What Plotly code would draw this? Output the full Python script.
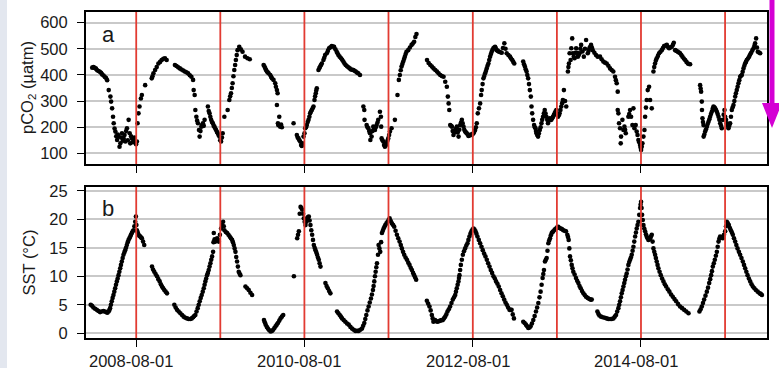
import pandas as pd
import plotly.graph_objects as go
from plotly.subplots import make_subplots

# Surface-water pCO2 (µatm) observations, as (decimal year, value)
pco2_obs = [
    (2008.060, 428), (2008.075, 430), (2008.090, 427), (2008.105, 424), (2008.119, 418), (2008.135, 415),
    (2008.150, 412), (2008.165, 408), (2008.178, 402), (2008.195, 398), (2008.210, 392), (2008.225, 388),
    (2008.237, 380), (2008.256, 342), (2008.276, 317), (2008.284, 298), (2008.296, 272), (2008.307, 240),
    (2008.315, 215), (2008.325, 195), (2008.335, 183), (2008.345, 165), (2008.355, 151), (2008.364, 172),
    (2008.374, 164), (2008.384, 125), (2008.394, 138), (2008.403, 160), (2008.413, 177), (2008.423, 148),
    (2008.433, 157), (2008.443, 170), (2008.453, 145), (2008.462, 185), (2008.472, 196), (2008.482, 150),
    (2008.492, 228), (2008.504, 177), (2008.511, 138), (2008.521, 165), (2008.531, 157), (2008.541, 142),
    (2008.551, 151), (2008.561, 160), (2008.570, 145), (2008.580, 135), (2008.590, 145), (2008.598, 215),
    (2008.609, 253), (2008.621, 279), (2008.637, 310), (2008.649, 323), (2008.688, 361), (2008.766, 387),
    (2008.775, 395), (2008.786, 406), (2008.806, 419), (2008.825, 430), (2008.845, 444), (2008.865, 450),
    (2008.884, 457), (2008.904, 462), (2008.923, 464), (2008.943, 457),
    (2009.041, 438), (2009.060, 434), (2009.080, 429), (2009.100, 425), (2009.119, 421), (2009.140, 417),
    (2009.158, 413), (2009.178, 410), (2009.198, 406), (2009.218, 399), (2009.237, 393), (2009.257, 381),
    (2009.264, 342), (2009.276, 323), (2009.284, 266), (2009.296, 240), (2009.305, 225), (2009.315, 215),
    (2009.327, 189), (2009.335, 164), (2009.345, 185), (2009.355, 202), (2009.365, 208), (2009.374, 215),
    (2009.384, 205), (2009.394, 228), (2009.433, 279), (2009.443, 262), (2009.453, 253), (2009.462, 240),
    (2009.472, 228), (2009.482, 220), (2009.492, 215), (2009.502, 205), (2009.511, 202), (2009.521, 195),
    (2009.531, 189), (2009.541, 182), (2009.551, 177), (2009.560, 170), (2009.570, 164), (2009.580, 150),
    (2009.590, 145), (2009.600, 160), (2009.609, 177), (2009.629, 240), (2009.668, 266), (2009.688, 304),
    (2009.698, 318), (2009.708, 330), (2009.718, 350), (2009.727, 368), (2009.737, 395), (2009.747, 419),
    (2009.757, 438), (2009.766, 457), (2009.776, 476), (2009.786, 495), (2009.806, 508), (2009.825, 498),
    (2009.845, 489), (2009.875, 470), (2009.904, 464), (2009.931, 460),
    (2010.096, 438), (2010.106, 432), (2010.116, 425), (2010.125, 419), (2010.135, 413), (2010.145, 410),
    (2010.155, 406), (2010.175, 400), (2010.185, 393), (2010.195, 387), (2010.214, 381), (2010.234, 368),
    (2010.242, 355), (2010.254, 342), (2010.262, 330), (2010.254, 285), (2010.282, 240), (2010.266, 215),
    (2010.270, 208), (2010.293, 202), (2010.303, 210), (2010.313, 200), (2010.452, 215), (2010.491, 170),
    (2010.501, 160), (2010.511, 157), (2010.521, 150), (2010.531, 145), (2010.542, 132), (2010.550, 128),
    (2010.558, 138), (2010.570, 164), (2010.582, 177), (2010.590, 196), (2010.600, 200), (2010.610, 208),
    (2010.620, 220), (2010.630, 228), (2010.640, 240), (2010.649, 253), (2010.659, 260), (2010.669, 266),
    (2010.679, 272), (2010.689, 279), (2010.701, 304), (2010.708, 318), (2010.716, 330), (2010.722, 340),
    (2010.728, 349), (2010.748, 419), (2010.758, 426), (2010.768, 432), (2010.778, 438), (2010.788, 444),
    (2010.807, 457), (2010.817, 466), (2010.827, 476), (2010.847, 483), (2010.860, 492), (2010.874, 502),
    (2010.890, 506), (2010.906, 511), (2010.920, 509), (2010.934, 508), (2010.950, 498), (2010.965, 489),
    (2010.975, 483), (2010.985, 476), (2011.000, 470), (2011.017, 464), (2011.030, 458), (2011.044, 451),
    (2011.058, 444), (2011.072, 438), (2011.088, 433), (2011.104, 429), (2011.120, 425), (2011.135, 421),
    (2011.150, 420), (2011.163, 419), (2011.177, 416), (2011.191, 413), (2011.206, 409), (2011.222, 406),
    (2011.242, 400), (2011.282, 279), (2011.293, 266), (2011.296, 228), (2011.321, 208), (2011.331, 200),
    (2011.341, 196), (2011.351, 185), (2011.361, 177), (2011.365, 151), (2011.380, 164), (2011.390, 185),
    (2011.400, 202), (2011.410, 195), (2011.420, 189), (2011.430, 200), (2011.440, 208), (2011.450, 218),
    (2011.459, 228), (2011.479, 259), (2011.491, 240), (2011.494, 202), (2011.499, 157), (2011.509, 150),
    (2011.519, 145), (2011.528, 132), (2011.538, 125), (2011.548, 130), (2011.558, 138), (2011.568, 148),
    (2011.578, 157), (2011.588, 170), (2011.598, 183), (2011.617, 196), (2011.657, 228), (2011.688, 323),
    (2011.704, 381), (2011.716, 400), (2011.726, 418), (2011.736, 432), (2011.746, 442), (2011.756, 451),
    (2011.766, 461), (2011.775, 470), (2011.785, 480), (2011.795, 489), (2011.815, 495), (2011.835, 505),
    (2011.855, 515), (2011.870, 520), (2011.886, 527), (2011.900, 545), (2011.914, 557),
    (2012.039, 457), (2012.058, 446), (2012.078, 438), (2012.097, 432), (2012.117, 425), (2012.137, 419),
    (2012.157, 413), (2012.176, 406), (2012.196, 400), (2012.215, 396), (2012.235, 393), (2012.255, 374),
    (2012.274, 355), (2012.286, 317), (2012.295, 291), (2012.303, 266), (2012.314, 208), (2012.324, 205),
    (2012.334, 202), (2012.343, 185), (2012.353, 170), (2012.363, 180), (2012.373, 189), (2012.383, 195),
    (2012.393, 202), (2012.403, 180), (2012.413, 164), (2012.422, 190), (2012.432, 208), (2012.442, 218),
    (2012.452, 228), (2012.462, 215), (2012.472, 202), (2012.481, 190), (2012.491, 183), (2012.501, 180),
    (2012.511, 177), (2012.521, 172), (2012.531, 166), (2012.540, 168), (2012.550, 170), (2012.560, 172),
    (2012.570, 170), (2012.580, 174), (2012.590, 177), (2012.600, 183), (2012.609, 189), (2012.619, 200),
    (2012.629, 215), (2012.641, 253), (2012.655, 272), (2012.669, 291), (2012.680, 323), (2012.688, 342),
    (2012.698, 365), (2012.708, 387), (2012.718, 396), (2012.728, 406), (2012.738, 415), (2012.747, 425),
    (2012.757, 435), (2012.767, 444), (2012.777, 457), (2012.787, 470), (2012.797, 480), (2012.806, 489),
    (2012.816, 496), (2012.826, 502), (2012.836, 505), (2012.846, 508), (2012.855, 502), (2012.865, 495),
    (2012.879, 492), (2012.893, 489), (2012.910, 487), (2012.925, 485), (2012.940, 503), (2012.956, 521),
    (2012.970, 500), (2012.984, 483), (2013.004, 476), (2013.023, 470), (2013.036, 463), (2013.050, 457),
    (2013.062, 450), (2013.074, 444),
    (2013.180, 451), (2013.190, 441), (2013.200, 432), (2013.210, 422), (2013.220, 413), (2013.229, 400),
    (2013.239, 387), (2013.249, 365), (2013.259, 342), (2013.271, 317), (2013.279, 279), (2013.287, 253),
    (2013.298, 228), (2013.310, 208), (2013.318, 200), (2013.326, 196), (2013.332, 185), (2013.338, 177),
    (2013.347, 170), (2013.357, 164), (2013.367, 176), (2013.377, 189), (2013.387, 200), (2013.397, 215),
    (2013.406, 228), (2013.416, 240), (2013.426, 253), (2013.436, 266), (2013.446, 252), (2013.456, 240),
    (2013.466, 228), (2013.475, 215), (2013.485, 225), (2013.495, 234), (2013.505, 230), (2013.515, 228),
    (2013.525, 234), (2013.534, 240), (2013.544, 246), (2013.554, 253), (2013.564, 260), (2013.574, 266),
    (2013.584, 250), (2013.594, 240), (2013.604, 246), (2013.613, 253), (2013.623, 266), (2013.633, 279),
    (2013.643, 292), (2013.652, 304), (2013.664, 342), (2013.678, 300), (2013.692, 279), (2013.712, 413),
    (2013.718, 430), (2013.724, 444), (2013.732, 483), (2013.744, 457), (2013.752, 502), (2013.763, 540),
    (2013.771, 483), (2013.781, 470), (2013.791, 464), (2013.800, 485), (2013.810, 502), (2013.820, 485),
    (2013.830, 470), (2013.840, 476), (2013.850, 483), (2013.860, 500), (2013.869, 515), (2013.885, 490),
    (2013.901, 470), (2013.915, 500), (2013.928, 534), (2013.948, 483), (2013.958, 492), (2013.967, 502),
    (2013.977, 508), (2013.987, 515), (2013.997, 505), (2014.007, 495), (2014.027, 485), (2014.046, 476),
    (2014.066, 470), (2014.094, 470), (2014.113, 460), (2014.133, 451), (2014.153, 447), (2014.173, 444),
    (2014.193, 435), (2014.213, 425), (2014.232, 419), (2014.252, 413), (2014.272, 393), (2014.282, 380),
    (2014.292, 368), (2014.304, 336), (2014.304, 266), (2014.312, 253), (2014.320, 215), (2014.332, 196),
    (2014.344, 164), (2014.340, 138), (2014.360, 228), (2014.372, 189), (2014.384, 202), (2014.392, 190),
    (2014.400, 177), (2014.431, 240), (2014.441, 250), (2014.451, 266), (2014.463, 240), (2014.479, 208),
    (2014.491, 272), (2014.503, 196), (2014.518, 208), (2014.530, 183), (2014.540, 170), (2014.550, 151),
    (2014.560, 142), (2014.570, 132), (2014.576, 122), (2014.582, 113), (2014.590, 125), (2014.598, 138),
    (2014.610, 164), (2014.622, 189), (2014.630, 240), (2014.640, 275), (2014.649, 304), (2014.661, 342),
    (2014.677, 355), (2014.689, 304), (2014.709, 272), (2014.729, 413), (2014.738, 430), (2014.748, 444),
    (2014.758, 455), (2014.768, 464), (2014.782, 473), (2014.796, 483), (2014.812, 489), (2014.828, 495),
    (2014.842, 503), (2014.856, 511), (2014.872, 513), (2014.888, 515), (2014.900, 508), (2014.915, 502),
    (2014.930, 505), (2014.947, 508), (2014.960, 515), (2014.971, 523), (2014.987, 495), (2015.003, 492),
    (2015.019, 489), (2015.032, 486), (2015.046, 483), (2015.060, 476), (2015.074, 470), (2015.090, 463),
    (2015.106, 457), (2015.122, 450), (2015.138, 444), (2015.152, 442), (2015.165, 441),
    (2015.284, 361), (2015.290, 348), (2015.296, 336), (2015.304, 298), (2015.306, 266), (2015.312, 234),
    (2015.318, 220), (2015.324, 208), (2015.326, 164), (2015.334, 172), (2015.344, 183), (2015.354, 192),
    (2015.364, 202), (2015.374, 212), (2015.384, 221), (2015.394, 230), (2015.403, 240), (2015.413, 250),
    (2015.423, 259), (2015.433, 270), (2015.443, 279), (2015.453, 276), (2015.463, 272), (2015.473, 266),
    (2015.483, 259), (2015.493, 250), (2015.503, 240), (2015.513, 228), (2015.523, 215), (2015.533, 205),
    (2015.542, 196), (2015.554, 228), (2015.564, 248), (2015.574, 266), (2015.582, 240), (2015.592, 228),
    (2015.602, 215), (2015.612, 205), (2015.621, 196), (2015.631, 205), (2015.641, 215), (2015.651, 240),
    (2015.661, 266), (2015.671, 276), (2015.681, 285), (2015.691, 300), (2015.701, 317), (2015.710, 330),
    (2015.720, 342), (2015.730, 355), (2015.740, 368), (2015.750, 380), (2015.760, 393), (2015.770, 397),
    (2015.780, 400), (2015.790, 412), (2015.800, 425), (2015.810, 435), (2015.819, 444), (2015.829, 450),
    (2015.839, 457), (2015.853, 463), (2015.867, 470), (2015.879, 478), (2015.891, 485), (2015.905, 494),
    (2015.919, 502), (2015.930, 512), (2015.938, 521), (2015.950, 540), (2015.960, 505), (2015.970, 489),
    (2015.985, 486), (2015.998, 483),
]

# Sea-surface temperature (°C) observations, as (decimal year, value)
sst_obs = [
    (2008.042, 5.0), (2008.058, 4.8), (2008.074, 4.5), (2008.094, 4.3), (2008.114, 4.1), (2008.134, 3.9),
    (2008.153, 3.7), (2008.173, 3.8), (2008.193, 3.9), (2008.209, 3.8), (2008.225, 3.7), (2008.240, 3.6),
    (2008.253, 3.8), (2008.262, 4.0), (2008.272, 4.4), (2008.282, 5.0), (2008.292, 5.6), (2008.302, 6.2),
    (2008.312, 6.7), (2008.322, 7.3), (2008.332, 7.9), (2008.342, 8.5), (2008.352, 9.1), (2008.362, 9.6),
    (2008.372, 10.2), (2008.382, 10.8), (2008.392, 11.4), (2008.401, 12.0), (2008.411, 12.6), (2008.421, 13.2),
    (2008.431, 13.8), (2008.441, 14.2), (2008.451, 14.6), (2008.461, 15.0), (2008.471, 15.5), (2008.481, 16.0),
    (2008.491, 16.4), (2008.501, 16.7), (2008.511, 17.0), (2008.520, 17.3), (2008.530, 17.6), (2008.540, 17.9),
    (2008.550, 18.1), (2008.560, 18.8), (2008.570, 19.6), (2008.578, 20.5), (2008.584, 19.0), (2008.590, 18.1),
    (2008.600, 17.7), (2008.610, 17.3), (2008.620, 17.1), (2008.630, 17.0), (2008.640, 16.8), (2008.649, 16.7),
    (2008.663, 16.1), (2008.677, 15.5),
    (2008.769, 11.7), (2008.782, 11.2), (2008.796, 10.8), (2008.812, 10.4), (2008.828, 10.0), (2008.844, 9.5),
    (2008.860, 9.1), (2008.874, 8.6), (2008.888, 8.2), (2008.902, 7.9), (2008.915, 7.6), (2008.931, 7.3),
    (2008.947, 7.0),
    (2009.034, 5.0), (2009.050, 4.5), (2009.066, 4.1), (2009.086, 3.8), (2009.106, 3.5), (2009.126, 3.2),
    (2009.145, 2.9), (2009.165, 2.7), (2009.185, 2.6), (2009.205, 2.5), (2009.225, 2.5), (2009.241, 2.6),
    (2009.257, 2.8), (2009.270, 3.0), (2009.284, 3.2), (2009.298, 3.8), (2009.312, 4.4), (2009.324, 5.0),
    (2009.336, 5.6), (2009.348, 6.2), (2009.360, 6.7), (2009.372, 7.3), (2009.384, 7.9), (2009.394, 8.5),
    (2009.403, 9.1), (2009.413, 9.6), (2009.423, 10.2), (2009.433, 10.6), (2009.443, 11.1), (2009.453, 11.7),
    (2009.463, 12.3), (2009.473, 12.9), (2009.483, 13.5), (2009.495, 14.3), (2009.500, 16.0), (2009.503, 17.6),
    (2009.513, 16.5), (2009.523, 16.1), (2009.533, 16.4), (2009.543, 16.7), (2009.553, 16.4), (2009.562, 16.1),
    (2009.576, 17.3), (2009.590, 18.4), (2009.602, 19.0), (2009.614, 19.6), (2009.622, 18.8), (2009.630, 18.1),
    (2009.646, 17.8), (2009.662, 17.6), (2009.678, 17.3), (2009.693, 17.0), (2009.707, 16.7), (2009.721, 16.4),
    (2009.731, 16.0), (2009.741, 15.5), (2009.751, 14.9), (2009.761, 14.3), (2009.770, 13.4), (2009.780, 12.6),
    (2009.790, 11.7), (2009.800, 10.8), (2009.810, 10.5), (2009.820, 10.2),
    (2009.880, 8.2), (2009.900, 7.9), (2009.919, 7.6), (2009.939, 7.1), (2009.959, 6.7),
    (2010.100, 2.3), (2010.110, 1.9), (2010.120, 1.5), (2010.134, 1.1), (2010.147, 0.8), (2010.163, 0.5),
    (2010.179, 0.3), (2010.195, 0.4), (2010.210, 0.6), (2010.224, 0.9), (2010.238, 1.2), (2010.252, 1.5),
    (2010.266, 1.8), (2010.282, 2.2), (2010.297, 2.6), (2010.313, 2.9), (2010.329, 3.2),
    (2010.456, 10.0), (2010.495, 16.7), (2010.505, 17.3), (2010.515, 17.9), (2010.525, 21.0), (2010.535, 22.2),
    (2010.545, 22.0), (2010.555, 21.7), (2010.565, 21.0), (2010.574, 20.2), (2010.584, 19.6), (2010.594, 19.0),
    (2010.604, 19.6), (2010.614, 20.2), (2010.624, 20.4), (2010.633, 20.5), (2010.643, 19.8), (2010.653, 19.0),
    (2010.663, 18.1), (2010.673, 17.3), (2010.683, 16.4), (2010.693, 15.5), (2010.703, 15.0), (2010.713, 14.6),
    (2010.723, 14.2), (2010.732, 13.8), (2010.742, 13.3), (2010.752, 12.9), (2010.762, 12.3), (2010.772, 11.7),
    (2010.831, 8.8), (2010.845, 8.3), (2010.859, 7.9), (2010.875, 7.4), (2010.890, 7.0),
    (2010.969, 3.8), (2010.985, 3.5), (2011.001, 3.2), (2011.015, 2.9), (2011.029, 2.6), (2011.048, 2.3),
    (2011.068, 2.0), (2011.088, 1.7), (2011.108, 1.5), (2011.128, 1.1), (2011.147, 0.8), (2011.167, 0.6),
    (2011.187, 0.4), (2011.207, 0.4), (2011.226, 0.4), (2011.246, 0.6), (2011.266, 0.8), (2011.280, 1.3),
    (2011.293, 1.8), (2011.305, 2.5), (2011.317, 3.2), (2011.331, 4.0), (2011.345, 4.7), (2011.358, 5.4),
    (2011.372, 6.1), (2011.384, 6.8), (2011.396, 7.6), (2011.404, 8.3), (2011.412, 9.1), (2011.420, 10.0),
    (2011.428, 10.8), (2011.436, 11.6), (2011.444, 12.3), (2011.456, 13.8), (2011.463, 15.5), (2011.473, 14.9),
    (2011.483, 14.3), (2011.493, 16.0), (2011.503, 17.6), (2011.513, 18.0), (2011.523, 18.4), (2011.533, 18.7),
    (2011.543, 19.0), (2011.556, 19.3), (2011.570, 19.6), (2011.582, 19.9), (2011.594, 20.2), (2011.608, 19.7),
    (2011.622, 19.3), (2011.636, 19.0), (2011.649, 18.7), (2011.665, 18.0), (2011.681, 17.3), (2011.697, 16.7),
    (2011.713, 16.1), (2011.727, 15.5), (2011.740, 14.9), (2011.754, 14.3), (2011.768, 13.8), (2011.784, 13.3),
    (2011.800, 12.9), (2011.816, 12.4), (2011.831, 12.0), (2011.845, 11.5), (2011.859, 11.1), (2011.873, 10.6),
    (2011.886, 10.2), (2011.898, 9.8), (2011.910, 9.4),
    (2012.037, 5.7), (2012.052, 5.2), (2012.068, 4.7), (2012.082, 4.0), (2012.096, 3.2), (2012.106, 2.6),
    (2012.115, 2.0), (2012.125, 2.2), (2012.135, 2.3), (2012.149, 2.1), (2012.163, 2.0), (2012.179, 2.1),
    (2012.195, 2.2), (2012.210, 2.3), (2012.226, 2.3), (2012.240, 2.6), (2012.254, 2.9), (2012.268, 3.3),
    (2012.282, 3.8), (2012.297, 4.2), (2012.313, 4.7), (2012.329, 5.3), (2012.345, 5.9), (2012.359, 6.3),
    (2012.373, 6.7), (2012.382, 7.3), (2012.392, 7.9), (2012.402, 8.5), (2012.412, 9.1), (2012.418, 9.7),
    (2012.424, 10.2), (2012.432, 11.1), (2012.440, 12.0), (2012.452, 12.9), (2012.464, 13.8), (2012.477, 14.4),
    (2012.491, 14.9), (2012.505, 15.4), (2012.519, 15.8), (2012.530, 16.4), (2012.542, 17.0), (2012.554, 17.5),
    (2012.566, 17.9), (2012.578, 18.2), (2012.590, 18.4), (2012.602, 18.2), (2012.614, 17.9), (2012.625, 17.5),
    (2012.637, 17.0), (2012.653, 16.4), (2012.669, 15.8), (2012.685, 15.2), (2012.700, 14.6), (2012.716, 14.0),
    (2012.732, 13.5), (2012.748, 12.9), (2012.764, 12.3), (2012.780, 11.7), (2012.795, 11.1), (2012.811, 10.6),
    (2012.827, 10.0), (2012.843, 9.6), (2012.858, 9.1), (2012.874, 8.7), (2012.890, 8.2), (2012.906, 7.6),
    (2012.922, 7.0), (2012.938, 6.5), (2012.954, 5.9), (2012.970, 5.4), (2012.985, 5.0), (2013.001, 4.5),
    (2013.017, 4.1), (2013.030, 4.1), (2013.042, 4.1), (2013.056, 3.3), (2013.070, 2.6),
    (2013.181, 2.0), (2013.197, 1.8), (2013.213, 1.5), (2013.227, 1.2), (2013.241, 0.9), (2013.255, 1.0),
    (2013.268, 1.2), (2013.284, 1.7), (2013.300, 2.3), (2013.316, 3.0), (2013.332, 3.8), (2013.346, 4.5),
    (2013.360, 5.3), (2013.374, 6.3), (2013.387, 7.3), (2013.399, 8.5), (2013.411, 9.7), (2013.419, 10.4),
    (2013.427, 11.1), (2013.439, 12.6), (2013.449, 12.9), (2013.459, 13.2), (2013.469, 14.5), (2013.479, 15.8),
    (2013.489, 16.3), (2013.499, 16.7), (2013.509, 17.2), (2013.519, 17.6), (2013.529, 17.8), (2013.538, 17.9),
    (2013.554, 18.2), (2013.570, 18.4), (2013.584, 18.6), (2013.598, 18.7), (2013.612, 18.5), (2013.626, 18.4),
    (2013.641, 18.3), (2013.657, 18.1), (2013.673, 18.0), (2013.689, 17.9), (2013.705, 17.3), (2013.713, 16.9),
    (2013.721, 16.4), (2013.729, 14.9), (2013.737, 13.5), (2013.747, 12.8), (2013.757, 12.0), (2013.766, 11.4),
    (2013.776, 10.8), (2013.792, 10.3), (2013.808, 9.7), (2013.822, 9.2), (2013.836, 8.8), (2013.850, 8.3),
    (2013.864, 7.9), (2013.880, 7.4), (2013.896, 7.0), (2013.912, 6.7), (2013.927, 6.4), (2013.947, 6.2),
    (2013.967, 6.0), (2013.981, 5.9), (2013.995, 5.9),
    (2014.062, 3.8), (2014.074, 3.4), (2014.086, 3.1), (2014.106, 2.9), (2014.126, 2.8), (2014.150, 2.7),
    (2014.173, 2.6), (2014.193, 2.5), (2014.213, 2.5), (2014.233, 2.5), (2014.253, 2.6), (2014.269, 2.9),
    (2014.284, 3.2), (2014.298, 3.8), (2014.312, 4.4), (2014.322, 5.0), (2014.332, 5.6), (2014.342, 6.3),
    (2014.352, 7.0), (2014.362, 7.6), (2014.372, 8.2), (2014.382, 8.8), (2014.391, 9.4), (2014.401, 10.0),
    (2014.411, 10.5), (2014.421, 11.2), (2014.431, 12.0), (2014.441, 12.5), (2014.451, 12.9), (2014.461, 13.3),
    (2014.471, 13.8), (2014.481, 14.5), (2014.491, 15.2), (2014.501, 16.1), (2014.511, 17.0), (2014.521, 17.7),
    (2014.530, 18.4), (2014.540, 19.0), (2014.550, 19.6), (2014.560, 20.8), (2014.570, 22.0), (2014.576, 22.6),
    (2014.582, 23.1), (2014.588, 22.0), (2014.594, 20.8), (2014.602, 19.9), (2014.610, 19.0), (2014.620, 18.4),
    (2014.630, 17.9), (2014.640, 17.4), (2014.649, 17.0), (2014.659, 16.7), (2014.669, 16.4), (2014.679, 16.5),
    (2014.689, 16.7), (2014.699, 17.0), (2014.709, 17.3), (2014.719, 16.1), (2014.729, 14.9), (2014.739, 14.3),
    (2014.749, 13.8), (2014.758, 13.2), (2014.768, 12.6), (2014.778, 12.0), (2014.788, 11.4), (2014.802, 10.8),
    (2014.816, 10.2), (2014.832, 9.6), (2014.848, 9.1), (2014.864, 8.6), (2014.880, 8.2), (2014.900, 7.7),
    (2014.919, 7.3), (2014.939, 6.8), (2014.959, 6.4), (2014.979, 6.0), (2014.999, 5.6), (2015.023, 5.1),
    (2015.046, 4.7), (2015.070, 4.4), (2015.094, 4.1), (2015.120, 3.8), (2015.146, 3.5),
    (2015.276, 3.8), (2015.290, 4.2), (2015.304, 4.7), (2015.318, 5.3), (2015.332, 5.9), (2015.348, 6.6),
    (2015.364, 7.3), (2015.378, 8.0), (2015.392, 8.8), (2015.404, 9.5), (2015.415, 10.2), (2015.425, 10.9),
    (2015.435, 11.7), (2015.447, 12.3), (2015.459, 12.9), (2015.471, 13.6), (2015.483, 14.3), (2015.493, 15.2),
    (2015.503, 16.1), (2015.512, 16.6), (2015.522, 17.0), (2015.538, 16.9), (2015.554, 16.7), (2015.568, 17.3),
    (2015.582, 17.9), (2015.592, 18.8), (2015.602, 19.6), (2015.614, 19.3), (2015.626, 19.0), (2015.638, 18.5),
    (2015.650, 18.1), (2015.662, 17.7), (2015.673, 17.3), (2015.687, 16.7), (2015.701, 16.1), (2015.715, 15.5),
    (2015.729, 14.9), (2015.745, 14.3), (2015.760, 13.8), (2015.776, 13.2), (2015.792, 12.6), (2015.806, 12.0),
    (2015.820, 11.4), (2015.834, 10.8), (2015.848, 10.2), (2015.864, 9.6), (2015.880, 9.1), (2015.896, 8.6),
    (2015.911, 8.2), (2015.929, 7.9), (2015.947, 7.6), (2015.969, 7.3), (2015.991, 7.0), (2016.005, 6.9),
    (2016.019, 6.7),
]

# Reference dates marked by vertical lines (1 August each year)
august_marks = ["2008-08-01", "2009-08-01", "2010-08-01", "2011-08-01",
                "2012-08-01", "2013-08-01", "2014-08-01", "2015-08-01"]
x_ticks = ["2008-08-01", "2010-08-01", "2012-08-01", "2014-08-01"]
x_span = ["2007-12-27", "2016-01-30"]
pco2_ticks = [100, 200, 300, 400, 500, 600]
pco2_span = [59, 641]
sst_ticks = [0, 5, 10, 15, 20, 25]
sst_span = [-0.85, 25.7]


def decimal_year_to_date(y):
    yr = int(y)
    start = pd.Timestamp(yr, 1, 1)
    end = pd.Timestamp(yr + 1, 1, 1)
    return start + (end - start) * (y - yr)


def split(obs):
    dates = [decimal_year_to_date(t) for t, _ in obs]
    vals = [v for _, v in obs]
    return dates, vals


pco2_dates, pco2_vals = split(pco2_obs)
sst_dates, sst_vals = split(sst_obs)

FONT = "Liberation Sans, Arial, sans-serif"
INK = "#1a1a1a"
W, H = 779, 368
ML, MR, MT, MB = 86, 12, 12, 30
PW, PH = W - ML - MR, H - MT - MB


def py(px):
    """Convert a pixel row (from top) to paper y."""
    return (H - MB - px) / PH


def pxx(px):
    """Convert a pixel column (from left) to paper x."""
    return (px - ML) / PW


fig = make_subplots(rows=2, cols=1, shared_xaxes=True)

marker = dict(size=4.6, color="black", line=dict(width=0))
fig.add_trace(go.Scatter(x=pco2_dates, y=pco2_vals, mode="markers", marker=marker,
                         showlegend=False, hoverinfo="skip"), row=1, col=1)
fig.add_trace(go.Scatter(x=sst_dates, y=sst_vals, mode="markers", marker=marker,
                         showlegend=False, hoverinfo="skip"), row=2, col=1)

axis_common = dict(
    showline=True, linecolor="black", linewidth=2, mirror=True,
    ticks="outside", ticklen=7, tickwidth=1.3, tickcolor="black",
    tickfont=dict(family=FONT, size=16.5, color=INK),
    zeroline=False, automargin=False,
)

# Date ticks on both panels; the labels under the lower panel are set as text below
fig.update_xaxes(**axis_common, showgrid=False, type="date", range=x_span,
                 tickvals=x_ticks, showticklabels=False)

fig.update_yaxes(**axis_common, showgrid=True, gridcolor="#c9c9c9", gridwidth=2,
                 ticklabelstandoff=6)
fig.update_yaxes(range=pco2_span, tickvals=pco2_ticks, row=1, col=1)
fig.update_yaxes(range=sst_span, tickvals=sst_ticks, row=2, col=1)

fig.update_layout(
    width=W, height=H,
    margin=dict(l=ML, r=MR, t=MT, b=MB, autoexpand=False),
    paper_bgcolor="white", plot_bgcolor="white",
    yaxis=dict(domain=[py(164), 1.0]),
    yaxis2=dict(domain=[0.0, py(187)]),
)

# Date labels beneath the lower panel
for d in x_ticks:
    fig.add_annotation(text=d, xref="x2", yref="paper", x=d, y=py(361),
                       xshift=-5, xanchor="center", yanchor="middle", showarrow=False,
                       font=dict(family=FONT, size=16.5, color=INK))

# Axis titles, rotated along the left side of each panel
fig.add_annotation(text="pCO<sub>2</sub> (µatm)", xref="paper", yref="y domain",
                   x=pxx(28), y=0.5, textangle=-90, showarrow=False,
                   xanchor="center", yanchor="middle",
                   font=dict(family=FONT, size=16.5, color=INK))
fig.add_annotation(text="SST (°C)", xref="paper", yref="y2 domain",
                   x=pxx(28), y=0.5, textangle=-90, showarrow=False,
                   xanchor="center", yanchor="middle",
                   font=dict(family=FONT, size=16.5, color=INK))

# August reference lines in both panels
for d in august_marks:
    for yref in ("y domain", "y2 domain"):
        fig.add_shape(type="line", xref="x", yref=yref, x0=d, x1=d, y0=0, y1=1,
                      line=dict(color="#e23b32", width=1.8), layer="above")

# Panel letters
fig.add_annotation(text="a", xref="x domain", yref="y domain", x=0.021, y=0.85,
                   xanchor="left", yanchor="middle", showarrow=False,
                   font=dict(family=FONT, size=22, color=INK))
fig.add_annotation(text="b", xref="x2 domain", yref="y2 domain", x=0.021, y=0.855,
                   xanchor="left", yanchor="middle", showarrow=False,
                   font=dict(family=FONT, size=22, color=INK))

# Pale strip along the left edge
fig.add_shape(type="rect", xref="paper", yref="paper",
              x0=pxx(0), x1=pxx(7), y0=py(H + 40), y1=py(-10),
              fillcolor="#e3e7ef", line=dict(width=0), layer="below")

# Magenta downward arrow at the right edge
arrow_col = "#d400d4"
fig.add_shape(type="line", xref="paper", yref="paper",
              x0=pxx(772), x1=pxx(772), y0=py(-5), y1=py(108),
              line=dict(color=arrow_col, width=5))
fig.add_shape(type="path", xref="paper", yref="paper",
              path=f"M {pxx(762)} {py(103)} L {pxx(782)} {py(103)} L {pxx(772)} {py(128)} Z",
              fillcolor=arrow_col, line=dict(width=0))

fig.write_html("out.html")
